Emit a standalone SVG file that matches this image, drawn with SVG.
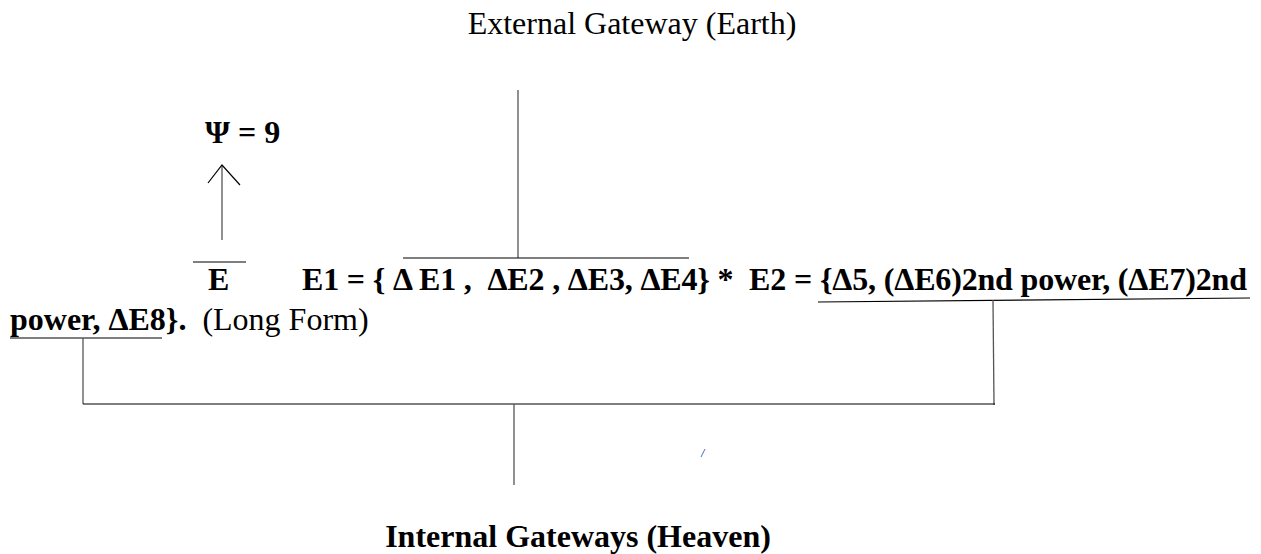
<svg xmlns="http://www.w3.org/2000/svg" width="1261" height="554" viewBox="0 0 1261 554">
<style>
text{font-family:"Liberation Serif","Times New Roman",serif;font-size:32px;fill:#000}
.b{font-weight:bold}
.ln{stroke:#000;stroke-width:1.2;fill:none}
.g{stroke:#555;stroke-width:1.3;fill:none}
</style>
<rect width="1261" height="554" fill="#fff"/>
<g id="external"><text x="632" y="34" text-anchor="middle">External Gateway (Earth)</text></g>
<g id="psi"><text class="b" x="205" y="143">Ψ = 9</text></g>
<g id="ebar"><text class="b" x="208" y="290">E</text><line class="ln" x1="193" y1="262" x2="246" y2="262"/></g>
<g id="formula">
<text class="b" x="302" y="290" xml:space="preserve" textLength="945" lengthAdjust="spacing">E1 = { Δ E1 ,  ΔE2 , ΔE3, ΔE4} *  E2 = {Δ5, (ΔE6)2nd power, (ΔE7)2nd</text>
<text x="10" y="330" xml:space="preserve"><tspan class="b">power, ΔE8}.</tspan>  (Long Form)</text>
</g>
<g id="internal"><text class="b" x="578" y="547" text-anchor="middle">Internal Gateways (Heaven)</text></g>
<g id="connectors">
<line class="g" x1="518" y1="90" x2="518" y2="258"/>
<line class="ln" x1="403" y1="258" x2="689" y2="258"/>
<line class="g" x1="222" y1="240" x2="222" y2="165"/>
<polyline class="ln" points="208,183 222,165 240,185"/>
<line class="ln" x1="818" y1="302" x2="1250" y2="298"/>
<line class="g" x1="993" y1="300" x2="994" y2="405"/>
<line class="ln" x1="10" y1="338" x2="162" y2="338"/>
<line class="g" x1="83" y1="338" x2="83" y2="404"/>
<line class="ln" x1="83" y1="404" x2="995" y2="404"/>
<line class="g" x1="514" y1="404" x2="514" y2="485"/>
<line stroke="#4472c4" stroke-width="1" x1="705" y1="449" x2="701" y2="457"/>
</g>
</svg>
